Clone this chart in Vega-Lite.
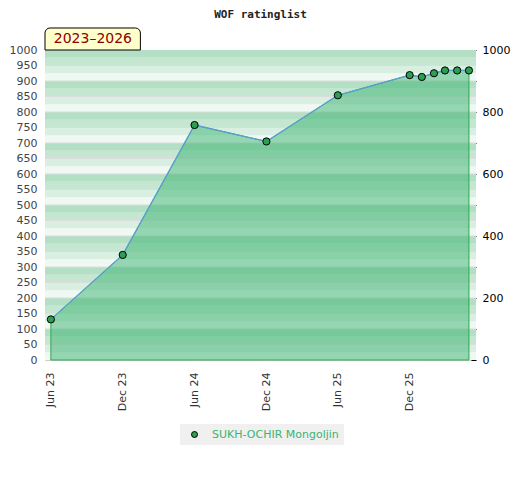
{
  "$schema": "https://vega.github.io/schema/vega-lite/v6.json",
  "width": 431,
  "height": 310,
  "autosize": "none",
  "padding": {"left": 45, "top": 50, "right": 44, "bottom": 120},
  "background": "white",
  "title": {
    "text": "WOF ratinglist",
    "font": "DejaVu Sans Mono",
    "fontWeight": "bold",
    "fontSize": 11,
    "color": "#222222",
    "baseline": "bottom",
    "offset": -4
  },
  "datasets": {
    "ratings": [
      {"date": "2023-06-01", "rating": 131, "player": "SUKH-OCHIR Mongoljin"},
      {"date": "2023-12-01", "rating": 339, "player": "SUKH-OCHIR Mongoljin"},
      {"date": "2024-06-01", "rating": 758, "player": "SUKH-OCHIR Mongoljin"},
      {"date": "2024-12-01", "rating": 705, "player": "SUKH-OCHIR Mongoljin"},
      {"date": "2025-06-01", "rating": 854, "player": "SUKH-OCHIR Mongoljin"},
      {"date": "2025-12-01", "rating": 919, "player": "SUKH-OCHIR Mongoljin"},
      {"date": "2026-01-01", "rating": 913, "player": "SUKH-OCHIR Mongoljin"},
      {"date": "2026-02-01", "rating": 925, "player": "SUKH-OCHIR Mongoljin"},
      {"date": "2026-03-01", "rating": 934, "player": "SUKH-OCHIR Mongoljin"},
      {"date": "2026-04-01", "rating": 934, "player": "SUKH-OCHIR Mongoljin"},
      {"date": "2026-05-01", "rating": 934, "player": "SUKH-OCHIR Mongoljin"}
    ],
    "bands": [
      {"lo": 0, "hi": 25, "k": 0}, {"lo": 25, "hi": 50, "k": 1}, {"lo": 50, "hi": 75, "k": 2}, {"lo": 75, "hi": 100, "k": 3},
      {"lo": 100, "hi": 125, "k": 0}, {"lo": 125, "hi": 150, "k": 1}, {"lo": 150, "hi": 175, "k": 2}, {"lo": 175, "hi": 200, "k": 3},
      {"lo": 200, "hi": 225, "k": 0}, {"lo": 225, "hi": 250, "k": 1}, {"lo": 250, "hi": 275, "k": 2}, {"lo": 275, "hi": 300, "k": 3},
      {"lo": 300, "hi": 325, "k": 0}, {"lo": 325, "hi": 350, "k": 1}, {"lo": 350, "hi": 375, "k": 2}, {"lo": 375, "hi": 400, "k": 3},
      {"lo": 400, "hi": 425, "k": 0}, {"lo": 425, "hi": 450, "k": 1}, {"lo": 450, "hi": 475, "k": 2}, {"lo": 475, "hi": 500, "k": 3},
      {"lo": 500, "hi": 525, "k": 0}, {"lo": 525, "hi": 550, "k": 1}, {"lo": 550, "hi": 575, "k": 2}, {"lo": 575, "hi": 600, "k": 3},
      {"lo": 600, "hi": 625, "k": 0}, {"lo": 625, "hi": 650, "k": 1}, {"lo": 650, "hi": 675, "k": 2}, {"lo": 675, "hi": 700, "k": 3},
      {"lo": 700, "hi": 725, "k": 0}, {"lo": 725, "hi": 750, "k": 1}, {"lo": 750, "hi": 775, "k": 2}, {"lo": 775, "hi": 800, "k": 3},
      {"lo": 800, "hi": 825, "k": 0}, {"lo": 825, "hi": 850, "k": 1}, {"lo": 850, "hi": 875, "k": 2}, {"lo": 875, "hi": 900, "k": 3},
      {"lo": 900, "hi": 925, "k": 0}, {"lo": 925, "hi": 950, "k": 1}, {"lo": 950, "hi": 975, "k": 2}, {"lo": 975, "hi": 1000, "k": 3}
    ],
    "tab": [
      {"label": "2023–2026"}
    ]
  },
  "resolve": {"axis": {"x": "independent"}},
  "layer": [
    {
      "data": {"name": "bands"},
      "mark": {"type": "rect"},
      "encoding": {
        "y": {
          "field": "lo",
          "type": "quantitative",
          "scale": {"domain": [0, 1000], "nice": false, "zero": true},
          "axis": {
            "orient": "left",
            "values": [0, 50, 100, 150, 200, 250, 300, 350, 400, 450, 500, 550, 600, 650, 700, 750, 800, 850, 900, 950, 1000],
            "format": "d",
            "title": null,
            "grid": false,
            "ticks": false,
            "labelPadding": 8,
            "labelColor": "#444444",
            "labelFont": "DejaVu Sans",
            "labelFontSize": 11,
            "domainColor": "#cccccc"
          }
        },
        "y2": {"field": "hi"},
        "fill": {
          "field": "k",
          "type": "nominal",
          "scale": {"domain": [0, 1, 2, 3], "range": ["#eff8f2", "#d9efe2", "#c5e7d2", "#b3dfc5"]},
          "legend": null
        }
      }
    },
    {
      "data": {"name": "bands"},
      "transform": [{"filter": "datum.k % 2 == 0 && datum.lo > 0"}],
      "mark": {"type": "rule", "color": "#dcdcdc", "strokeWidth": 1},
      "encoding": {
        "y": {"field": "lo", "type": "quantitative", "axis": null}
      }
    },
    {
      "data": {"name": "ratings"},
      "mark": {"type": "area", "fill": "#3cb371", "fillOpacity": 0.5, "stroke": "#2ea84f", "strokeWidth": 1},
      "encoding": {
        "x": {
          "field": "date",
          "type": "temporal",
          "scale": {
            "type": "utc",
            "domain": [
              {"year": 2023, "month": 5, "date": 17, "utc": true},
              {"year": 2026, "month": 5, "date": 19, "utc": true}
            ]
          },
          "axis": {
            "title": null,
            "grid": false,
            "ticks": false,
            "values": [1685577600000, 1701388800000, 1717200000000, 1733011200000, 1748736000000, 1764547200000],
            "labelExpr": "utcFormat(datum.value, '%b %y')",
            "labelAngle": 270,
            "labelAlign": "right",
            "labelBaseline": "middle",
            "labelPadding": 12,
            "labelColor": "#333333",
            "labelFont": "DejaVu Sans",
            "labelFontSize": 11,
            "labelFlush": false,
            "labelOverlap": false,
            "domainColor": "#cccccc"
          }
        },
        "y": {
          "field": "rating",
          "type": "quantitative",
          "axis": {
            "orient": "right",
            "values": [0, 200, 400, 600, 800, 1000],
            "format": "d",
            "title": null,
            "grid": false,
            "domain": false,
            "offset": -5,
            "tickSize": 5,
            "tickColor": "black",
            "labelPadding": 6,
            "labelColor": "black",
            "labelFont": "DejaVu Sans",
            "labelFontSize": 11
          }
        }
      }
    },
    {
      "data": {"name": "ratings"},
      "mark": {"type": "line", "color": "#5a9fd4", "strokeWidth": 1.3},
      "encoding": {
        "x": {"field": "date", "type": "temporal", "axis": null},
        "y": {
          "field": "rating",
          "type": "quantitative",
          "axis": {
            "orient": "right",
            "values": [100, 300, 500, 700, 900],
            "title": null,
            "grid": false,
            "domain": false,
            "labels": false,
            "offset": -3,
            "tickSize": 3,
            "tickColor": "black"
          }
        }
      }
    },
    {
      "data": {"name": "ratings"},
      "mark": {"type": "point", "filled": true, "shape": "circle", "size": 52, "stroke": "black", "strokeWidth": 1, "opacity": 1},
      "encoding": {
        "x": {"field": "date", "type": "temporal", "axis": null},
        "y": {"field": "rating", "type": "quantitative", "axis": null},
        "color": {
          "field": "player",
          "type": "nominal",
          "scale": {"range": ["#2e9e52"]},
          "legend": {
            "title": null,
            "orient": "none",
            "legendX": 135,
            "legendY": 374,
            "direction": "horizontal",
            "fillColor": "#f0f0f0",
            "padding": 5,
            "symbolType": "circle",
            "symbolSize": 36,
            "symbolOffset": 4,
            "symbolStrokeColor": "black",
            "symbolStrokeWidth": 1,
            "symbolOpacity": 1,
            "labelOffset": 12,
            "labelColor": "#3cb371",
            "labelFont": "DejaVu Sans",
            "labelFontSize": 11
          }
        }
      }
    },
    {
      "data": {"name": "tab"},
      "mark": {"type": "rect", "fill": "#ffffcc", "stroke": "black", "strokeWidth": 1, "cornerRadiusTopLeft": 5, "cornerRadiusTopRight": 5},
      "encoding": {
        "x": {"datum": {"year": 2023, "month": 5, "date": 17, "utc": true}, "type": "temporal", "axis": null},
        "x2": {"datum": {"year": 2024, "month": 1, "date": 15, "utc": true}},
        "y": {"datum": 1000, "type": "quantitative", "axis": null},
        "y2": {"datum": 1071}
      }
    },
    {
      "data": {"name": "tab"},
      "mark": {"type": "text", "color": "#8b0000", "font": "DejaVu Sans", "fontSize": 14, "align": "center", "baseline": "middle"},
      "encoding": {
        "text": {"field": "label"},
        "x": {"datum": {"year": 2023, "month": 9, "date": 16, "utc": true}, "type": "temporal", "axis": null},
        "y": {"datum": 1036, "type": "quantitative", "axis": null}
      }
    }
  ],
  "config": {
    "view": {"stroke": null}
  }
}
